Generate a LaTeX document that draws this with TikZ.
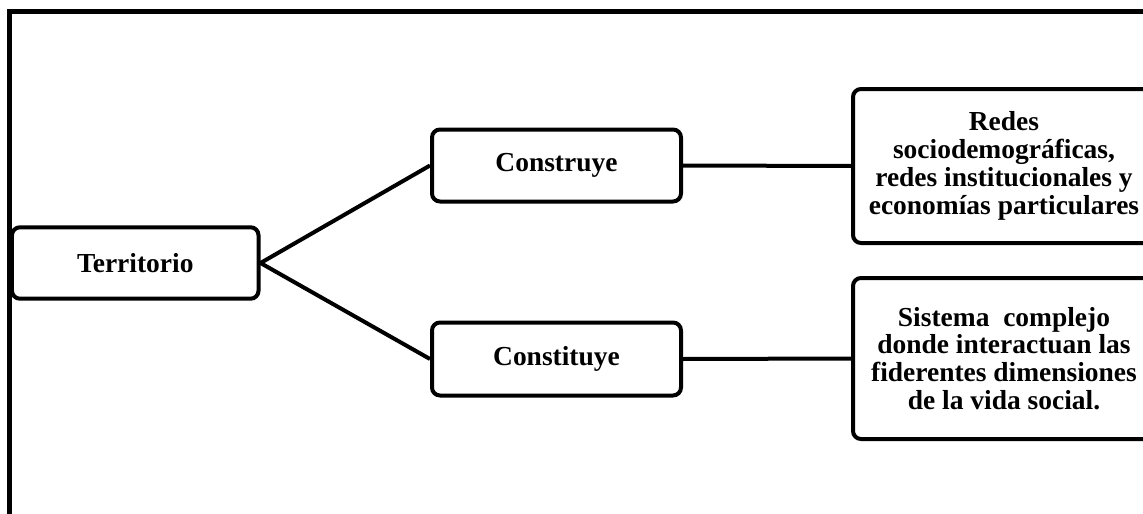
\documentclass[tikz,border=0pt]{standalone}
\usepackage{fontspec}
\setmainfont{Liberation Serif}
\begin{document}
\begin{tikzpicture}[x=0.75pt,y=-0.75pt,
  box/.style={draw=black,line width=3pt,rounded corners=6pt,inner sep=0pt,
    align=center,font=\bfseries\fontsize{20.6}{20.9}\selectfont},
  conn/.style={draw=black,line width=3pt}]
\useasboundingbox (0,0) rectangle (1143,514);
\draw[line width=3.4pt,line join=miter] (9.5,520) -- (9.5,11.5) -- (1150,11.5);
\node[box,minimum width=184.9pt,minimum height=53.6pt] (terr) at (135.25,263) {Territorio};
\node[box,minimum width=186.75pt,minimum height=54pt] (cons) at (556.5,165.5) {Construye};
\node[box,minimum width=186.75pt,minimum height=54.75pt] (cont) at (556.5,359) {Constituye};
\node[box,minimum width=226.5pt,minimum height=115.5pt] (redes) at (1004,166)
  {Redes\\sociodemográficas,\\redes institucionales y\\economías particulares};
\node[box,minimum width=226.5pt,minimum height=120.75pt] (sist) at (1004,358.5)
  {Sistema\ \ complejo\\donde interactuan las\\fiderentes dimensiones\\de la vida social.};
\draw[conn] (terr.east) -- (cons.west);
\draw[conn] (terr.east) -- (cont.west);
\draw[conn] (cons.east) -- (redes.west);
\draw[conn] (cont.east) -- (sist.west);
\end{tikzpicture}
\end{document}
